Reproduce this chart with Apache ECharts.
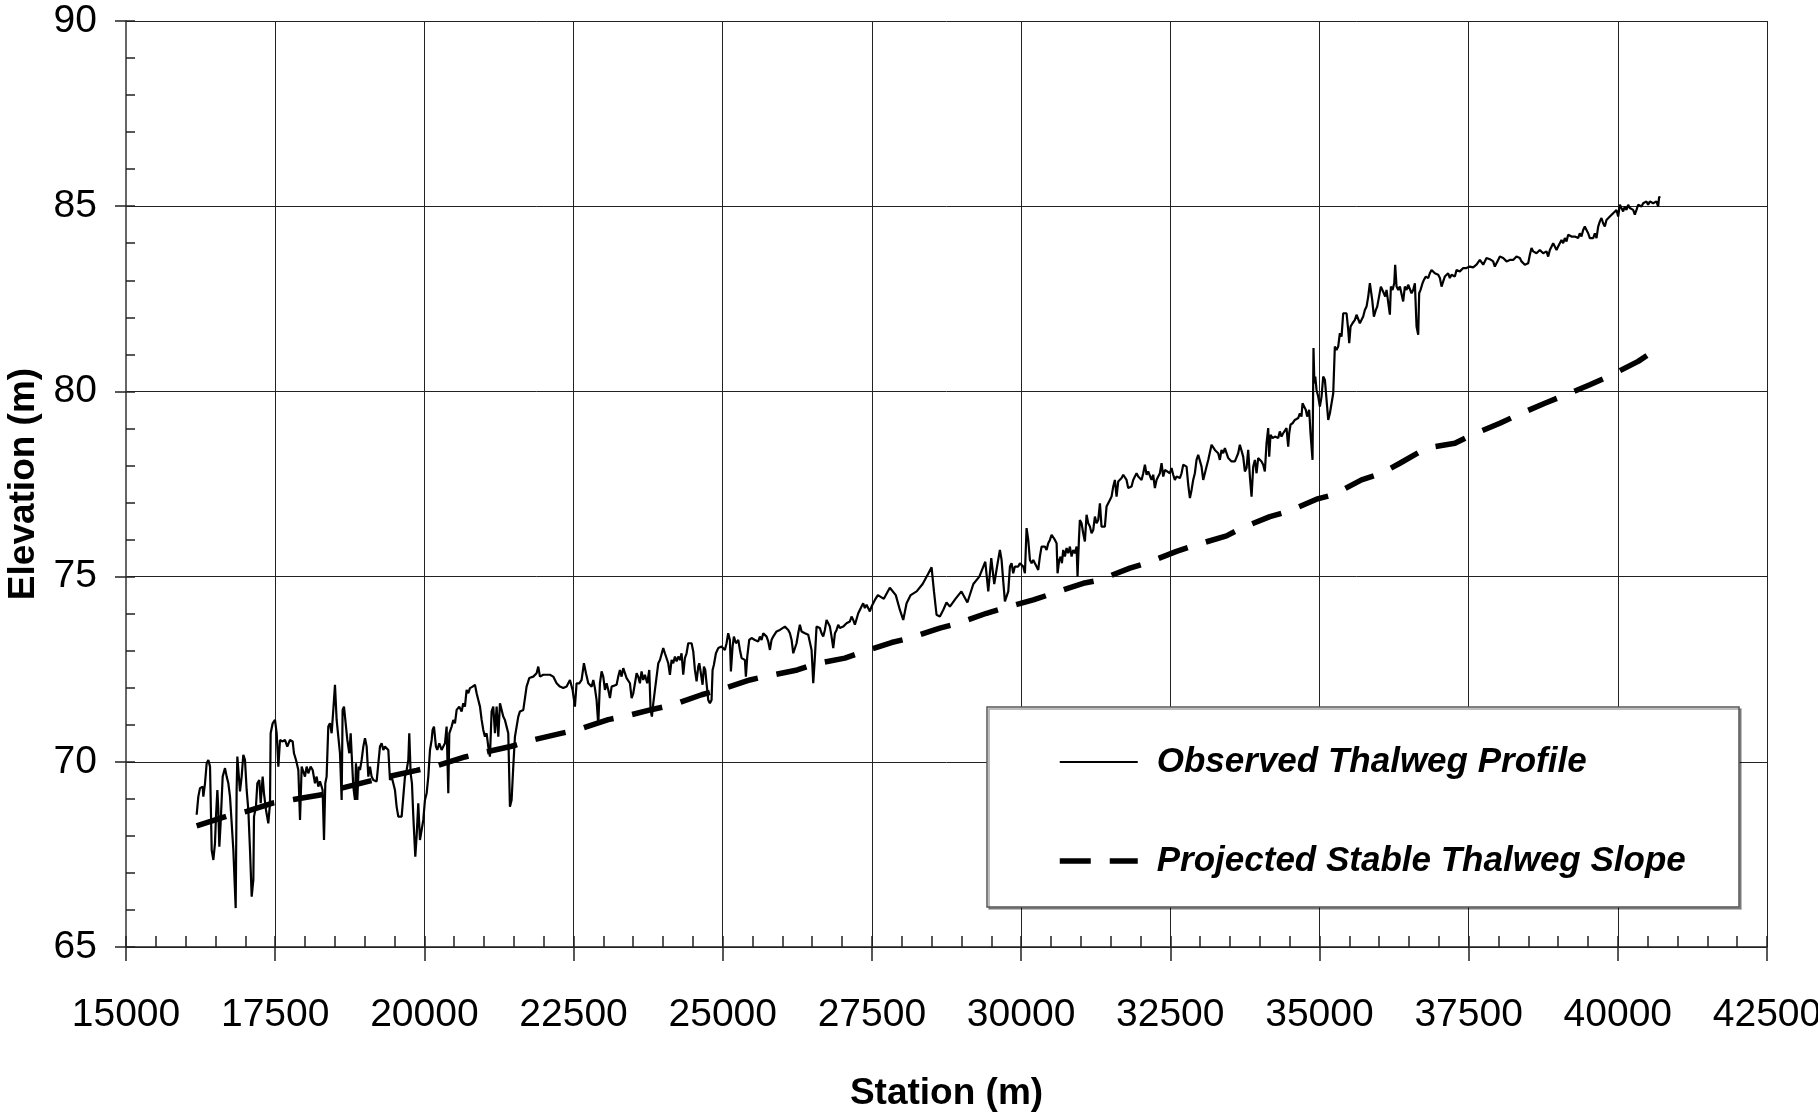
<!DOCTYPE html>
<html>
<head>
<meta charset="utf-8">
<script src="https://cdn.jsdelivr.net/npm/echarts@6/dist/echarts.min.js"></script>
<style>
html,body{margin:0;padding:0;background:#fff;}
#chart{width:1818px;height:1113px;}
</style>
</head>
<body>
<div id="chart"></div>
<script>
const seriesNames = ['Observed Thalweg Profile', 'Projected Stable Thalweg Slope'];
const xTickLabels = ['15000','17500','20000','22500','25000','27500','30000','32500','35000','37500','40000','42500'];
const yTickLabels = ['65','70','75','80','85','90'];

const obsStation = [
16184,16212,16240,16285,16296,16324,16352,16380,16408,16436,16464,16491,16508,16531,16547,16564,16586,16620,16659,16687,
16715,16743,16771,16799,16838,16854,16866,16899,16910,16938,16966,16994,17022,17050,17078,17106,17134,17145,17178,17201,
17234,17257,17290,17312,17346,17385,17413,17424,17458,17497,17525,17553,17581,17625,17664,17703,17748,17793,17815,17849,
17888,17916,17944,17971,17999,18027,18055,18094,18128,18167,18195,18223,18251,18295,18318,18340,18362,18390,18418,18446,
18474,18502,18530,18558,18586,18614,18630,18653,18686,18709,18742,18765,18781,18809,18837,18854,18876,18899,18921,18949,
18977,19005,19033,19061,19089,19116,19144,19200,19228,19256,19284,19312,19340,19368,19396,19424,19451,19479,19507,19535,
19563,19591,19619,19647,19675,19703,19731,19747,19770,19792,19815,19848,19870,19898,19926,19954,19982,20010,20038,20066,
20094,20122,20138,20161,20194,20217,20250,20289,20317,20345,20373,20401,20418,20457,20485,20513,20541,20585,20624,20652,
20680,20708,20736,20764,20809,20848,20876,20904,20932,20960,20987,21015,21043,21071,21099,21127,21155,21183,21211,21239,
21267,21295,21322,21350,21378,21406,21434,21462,21490,21518,21546,21574,21602,21658,21713,21758,21825,21881,21909,21937,
21993,22049,22104,22160,22188,22216,22272,
22328,22384,22440,22484,22523,22551,22596,22635,22674,22708,22747,22775,22803,22831,22858,22886,22914,22942,22970,22998,
23026,23054,23082,23110,23138,23166,23221,23249,23277,23305,23333,23361,23389,23445,23473,23501,23529,23557,23584,23612,
23640,23668,23696,23735,23769,23791,23813,23836,23864,23892,23920,23948,23975,24003,24031,24059,24087,24115,24143,24171,
24199,24227,24255,24283,24310,24338,24366,24394,24422,24450,24478,24506,24534,24562,24590,24607,24629,24662,24685,24707,
24729,24757,24785,24813,24830,24852,24886,24925,24981,25009,25036,25064,25092,25120,25137,25165,25187,25221,25260,25288,
25316,25344,25372,25388,25411,25444,25483,25511,25539,25567,25595,25623,25651,25679,25707,25735,25763,25791,25818,25846,
25874,25902,25930,25958,26003,26042,26070,26098,26126,26154,26182,26209,26237,26265,26293,26321,26349,26377,26405,26433,
26461,26489,26517,26545,26572,26600,26628,26656,26684,26712,26740,26768,26796,26824,26852,26880,26908,26935,26963,26991,
27019,27047,27075,27103,27131,27159,27187,27215,27243,27271,27298,27326,27354,27382,27410,27438,27466,27494,27522,27550,
27600,27700,27800,27900,27969,28025,28081,28150,28250,28350,28450,28500,28540,28583,28639,28695,28750,28807,28900,29000,
29100,29200,29300,29400,29450,29500,29550,29600,
29645,29673,29701,29729,29757,29785,29813,29840,29868,29896,29924,29952,29980,30008,30036,30064,30092,30120,30148,30176,
30204,30231,30259,30287,30315,30343,30371,30399,30427,30455,30483,30511,30539,30567,30595,30611,30639,30662,30684,30706,
30734,30762,30790,30818,30846,30874,30902,30930,30946,30969,30985,31013,31041,31069,31097,31125,31153,31181,31209,31237,
31265,31293,31321,31348,31376,31404,31432,31460,31488,31516,31544,31572,31600,31628,31656,31684,31712,31739,31767,31795,
31823,31851,31879,31907,31935,31963,31991,32019,32047,32075,32103,32130,32158,32186,32214,32242,32270,32298,32326,32354,
32382,32410,32438,32493,32521,32549,32577,32605,32633,32661,32689,32717,32745,32773,32801,32829,32857,32884,32912,32940,
32968,32996,33024,33052,33080,33108,33136,33164,33192,33220,33247,33275,33303,33331,33359,33387,33415,33443,33471,33499,
33527,33555,33583,33610,33638,33666,33694,33722,33750,33778,33806,33834,33862,33890,33918,33946,33973,34001,34029,34057,
34085,34113,34141,34158,34180,34214,34253,34281,34309,34336,34364,34392,34420,34448,34476,34493,34515,34549,34588,34616,
34644,34672,34699,34716,34738,34772,34794,34828,34850,34884,
34900,34915,34930,34951,34979,35007,35035,35063,35091,35119,35147,35175,35203,35231,35258,35286,35314,35342,35370,35398,
35426,35454,35482,35499,35521,35554,35594,35621,35649,35677,35705,35733,35761,35789,35817,35845,35862,35884,35912,35945,
35968,36001,36029,36057,36079,36102,36124,36152,36180,36197,36225,36253,36269,36292,36320,36348,36375,36403,36431,36459,
36487,36515,36543,36571,36599,36627,36655,36671,36694,36727,36750,36783,36822,36850,36878,36906,36934,36962,36990,37018,
37046,37074,37101,37129,37157,37185,37213,37241,37269,37297,37353,37381,37409,37436,37464,37492,37520,37548,37576,37604,
37632,37660,37688,37716,37744,37772,37800,37827,37855,37883,37911,37939,37967,37995,38023,38051,38079,38107,38135,38163,
38191,38218,38246,38274,38302,38330,38358,38386,38414,38442,38470,38498,38526,38554,38582,38609,38637,38665,38693,38721,
38749,38777,38805,38833,38861,38889,38917,38945,38973,39000,39028,39056,39084,39112,39140,39168,39196,39224,39252,39280,
39308,39335,39363,39391,39419,39447,39475,39503,39531,39559,39587,39615,39643,39671,39699,39726,39754,39782,39810,39838,
39866,39894,39922,39950,39978,40006,40034,40061,40089,40117,40145,40173,40201,40229,40257,40285,40313,40341,40369,40397,
40425,40452,40480,40508,40536,40564,40592,40620,40648,40676,40693,40704
];

const obsElevation = [
68.57,69.06,69.29,69.33,69.06,69.42,69.96,70.05,69.87,67.62,67.35,67.80,68.52,69.24,68.70,67.71,68.34,69.60,69.83,69.60,
69.42,69.06,68.34,67.62,66.05,69.24,70.14,70.10,69.20,69.60,70.19,70.05,69.24,68.70,67.62,66.36,66.81,68.52,68.79,69.42,
69.51,68.88,69.60,69.15,68.70,68.34,68.88,70.77,71.04,71.13,70.77,69.87,70.59,70.55,70.59,70.41,70.59,70.55,70.23,70.05,
69.78,68.43,69.87,69.92,69.60,69.87,69.69,69.87,69.78,69.42,69.60,69.33,69.47,69.24,67.89,69.42,69.60,70.95,71.04,70.77,
71.40,72.08,71.13,70.68,70.23,68.97,71.40,71.49,71.49,70.59,70.23,70.77,70.23,69.33,68.97,69.96,68.97,69.87,69.78,70.05,
70.41,70.64,70.41,69.60,69.87,69.60,69.51,69.47,69.42,70.41,70.50,70.32,70.41,70.41,70.32,69.51,69.60,69.42,69.24,68.79,
68.52,68.52,68.52,69.06,69.60,69.78,70.05,70.77,69.69,69.42,68.52,67.44,67.98,68.88,67.89,68.16,68.43,68.97,69.15,69.60,
70.32,70.59,70.86,70.95,70.41,70.32,70.50,70.32,70.41,70.50,70.95,69.15,70.77,70.95,71.13,71.04,71.40,71.49,71.36,71.58,
71.49,71.94,71.85,71.99,72.03,72.08,71.85,71.67,71.49,71.13,70.86,70.68,70.77,70.41,70.14,71.36,71.49,70.77,71.49,70.68,
71.58,71.54,71.22,71.13,70.95,70.77,68.79,68.97,69.87,70.68,70.95,71.22,71.36,71.40,72.03,72.26,72.30,72.39,72.57,72.30,
72.35,72.35,72.35,72.30,72.35,72.12,72.03,
71.99,72.03,72.21,71.94,71.49,72.12,72.12,72.21,72.66,72.39,72.12,72.17,72.03,72.21,71.99,71.67,71.00,72.12,72.44,72.30,
71.94,72.12,71.94,71.72,72.03,71.99,72.08,72.30,72.48,72.30,72.53,72.48,72.26,72.12,71.72,71.85,72.12,72.39,72.30,72.12,
72.44,72.21,72.35,72.12,72.48,71.40,71.22,71.58,71.94,72.30,72.66,72.75,72.80,73.07,72.93,72.93,72.66,72.35,72.75,72.66,
72.84,72.71,72.84,72.75,72.93,72.35,72.80,72.93,73.20,73.25,73.20,72.98,72.48,72.17,72.57,72.66,72.44,72.08,72.57,72.48,
72.12,71.67,71.58,71.67,72.48,72.62,72.93,73.07,73.11,73.16,73.02,73.20,73.47,73.29,72.44,73.11,73.38,73.20,73.29,73.02,
72.80,72.84,72.75,72.30,72.84,73.29,73.34,73.38,73.29,73.34,73.25,73.38,73.29,73.47,73.52,73.38,73.25,73.02,73.29,73.38,
73.43,73.52,73.47,73.56,73.61,73.65,73.70,73.56,73.47,73.29,72.93,72.98,73.20,73.47,73.70,73.52,73.56,73.47,73.52,73.43,
73.38,73.02,72.12,72.84,73.65,73.70,73.61,73.47,73.38,73.56,73.83,73.74,73.65,73.38,73.07,73.47,73.56,73.70,73.61,73.65,
73.65,73.61,73.74,73.70,73.79,73.92,73.83,73.70,73.74,74.01,74.10,74.19,74.28,74.15,74.24,74.19,74.06,74.19,74.28,74.37,
74.50,74.40,74.70,74.50,74.10,73.83,74.28,74.50,74.60,74.80,75.10,75.25,74.60,73.97,73.92,74.10,74.30,74.19,74.40,74.60,
74.30,74.80,75.00,75.40,74.60,75.50,74.80,75.30,
75.72,75.45,74.87,74.33,74.37,74.60,75.27,75.36,75.09,75.27,75.23,75.27,75.36,75.32,75.27,75.09,76.31,75.99,75.45,75.36,
75.45,75.36,75.27,75.18,75.54,75.81,75.86,75.81,75.72,75.90,75.99,76.13,76.17,75.99,75.90,75.09,75.45,75.54,75.36,75.72,
75.54,75.77,75.63,75.81,75.54,75.72,75.63,75.81,75.00,75.99,76.53,76.44,76.17,75.95,76.67,76.44,76.35,76.17,76.26,76.62,
76.44,76.53,76.98,76.35,76.40,76.35,76.89,76.98,77.07,77.16,77.43,77.61,77.16,77.57,77.61,77.66,77.75,77.70,77.61,77.39,
77.39,77.43,77.61,77.70,77.79,77.70,77.75,77.61,77.79,78.02,77.75,77.84,77.79,77.61,77.75,77.39,77.61,77.70,77.79,78.06,
77.70,77.88,77.84,77.79,77.93,77.75,77.61,77.70,77.75,77.66,77.79,78.02,78.06,77.97,77.48,77.12,77.34,77.61,77.79,78.15,
78.29,78.33,77.97,77.61,77.79,77.97,78.15,78.20,78.56,78.51,78.42,78.47,78.33,78.15,78.42,78.33,78.47,78.42,78.20,78.15,
78.11,78.15,78.11,78.15,78.33,78.56,78.60,78.24,77.84,77.93,78.42,77.70,77.16,77.97,78.15,77.79,78.20,78.20,78.11,78.02,
77.84,78.60,79.01,78.24,78.83,78.74,78.78,78.83,78.74,78.92,78.78,78.87,78.92,79.01,78.51,78.87,79.10,79.14,79.23,79.19,
79.28,79.41,79.32,79.68,79.64,79.50,79.32,79.50,78.87,78.15,
81.17,80.22,80.40,80.04,79.86,79.59,79.86,80.40,80.31,80.31,79.23,79.41,79.68,79.95,81.21,81.12,81.21,81.57,81.48,82.11,
82.16,82.11,81.66,81.30,81.75,81.84,81.93,82.07,82.11,81.84,81.89,82.02,82.20,82.29,82.56,82.92,82.96,82.47,82.02,82.20,
82.29,82.29,82.83,82.88,82.65,82.56,82.74,82.79,82.07,82.83,82.74,82.92,83.42,82.83,82.74,82.83,82.88,82.43,82.83,82.74,
82.88,82.83,82.65,82.74,82.92,81.75,81.53,82.65,82.74,82.92,83.01,83.10,83.06,83.19,83.28,83.24,83.19,83.24,83.15,83.06,
82.83,82.97,83.10,83.15,83.19,83.06,83.15,83.15,83.10,83.28,83.24,83.19,83.33,83.37,83.33,83.28,83.37,83.42,83.35,83.37,
83.42,83.37,83.55,83.60,83.42,83.46,83.60,83.55,83.57,83.60,83.51,83.37,83.33,83.55,83.64,83.69,83.60,83.55,83.51,83.46,
83.55,83.60,83.55,83.60,83.64,83.69,83.60,83.51,83.46,83.42,83.46,83.46,83.69,83.87,83.78,83.82,83.73,83.69,83.82,83.78,
83.73,83.69,83.78,83.64,83.82,83.87,84.00,84.05,83.82,83.91,83.91,84.09,84.00,84.14,84.05,84.23,84.27,84.18,84.23,84.18,
84.23,84.14,84.27,84.18,84.36,84.45,84.36,84.27,84.14,84.18,84.14,84.27,84.14,84.45,84.59,84.68,84.54,84.45,84.63,84.63,
84.72,84.77,84.81,84.86,84.90,84.72,85.04,84.95,84.86,84.99,84.90,85.04,84.95,84.99,84.90,84.77,84.90,85.04,85.08,84.99,
85.08,85.04,85.13,85.04,85.13,85.17,85.08,85.04,85.13,84.99,85.26,85.22
];

const projStation = [16184,16687,17022,17469,17804,18279,18614,19061,19396,19870,20194,20680,20987,21462,21797,22272,22579,
23082,23389,23836,24171,24646,24981,25455,25762,26249,26573,27047,27365,27829,28136,28639,28946,29421,29757,30204,30539,
31041,31320,31823,32130,32605,32940,33443,33694,34169,34476,34951,35230,35705,36012,36347,36794,37269,37520,38023,38330,
38777,39085,39531,39866,40341,40592,40704];
const projElevation = [68.27,68.53,68.66,68.89,68.98,69.11,69.29,69.47,69.60,69.77,69.89,70.13,70.25,70.42,70.58,70.76,70.87,
71.14,71.24,71.42,71.54,71.81,71.96,72.21,72.32,72.48,72.65,72.80,72.98,73.22,73.34,73.61,73.74,74.01,74.17,74.37,74.55,
74.82,74.91,75.23,75.38,75.68,75.86,76.10,76.31,76.62,76.76,77.09,77.21,77.61,77.77,78.06,78.47,78.60,78.80,79.14,79.37,
79.68,79.88,80.18,80.42,80.81,81.08,81.12];

const obsData = obsStation.map((s, i) => [s, obsElevation[i]]);
const projData = projStation.map((s, i) => [s, projElevation[i]]);

const FONT = "'Liberation Sans', Arial, sans-serif";

const chart = echarts.init(document.getElementById('chart'), null, {renderer: 'canvas'});
chart.setOption({
  backgroundColor: '#ffffff',
  animation: false,
  grid: {left: 126, right: 51, top: 21, bottom: 166, containLabel: false, outerBoundsMode: 'none'},
  xAxis: [{
    type: 'value', min: 15000, max: 42500, interval: 2500, position: 'bottom',
    name: 'Station (m)', nameLocation: 'middle', nameGap: 128,
    nameTextStyle: {fontFamily: FONT, fontSize: 37, fontWeight: 'bold', color: '#000'},
    axisLine: {show: true, onZero: false, lineStyle: {color: '#222', width: 1.5}},
    axisTick: {show: true, inside: false, length: 14, lineStyle: {color: '#222', width: 1.5}},
    axisLabel: {margin: 49, fontFamily: FONT, fontSize: 39, color: '#000',
      formatter: (v, i) => xTickLabels[i]},
    splitLine: {show: true, lineStyle: {color: '#222', width: 1}}
  }, {
    type: 'value', min: 15000, max: 42500, interval: 500, position: 'bottom', offset: 0,
    axisLine: {show: false},
    axisTick: {show: true, inside: true, length: 11, lineStyle: {color: '#222', width: 1.5}},
    axisLabel: {show: false}, splitLine: {show: false}
  }],
  yAxis: [{
    type: 'value', min: 65, max: 90, interval: 5, position: 'left',
    name: 'Elevation (m)', nameLocation: 'middle', nameGap: 76,
    nameTextStyle: {fontFamily: FONT, fontSize: 37, fontWeight: 'bold', color: '#000'},
    axisLine: {show: true, onZero: false, lineStyle: {color: '#666', width: 2}},
    axisTick: {show: true, inside: false, length: 11, lineStyle: {color: '#222', width: 1.5}},
    axisLabel: {margin: 29, fontFamily: FONT, fontSize: 39, color: '#000',
      formatter: (v, i) => yTickLabels[i]},
    splitLine: {show: true, lineStyle: {color: '#222', width: 1}}
  }, {
    type: 'value', min: 65, max: 90, interval: 1, position: 'left', offset: 0,
    axisLine: {show: false},
    axisTick: {show: true, inside: true, length: 9, lineStyle: {color: '#222', width: 1.5}},
    axisLabel: {show: false}, splitLine: {show: false}
  }],
  graphic: [{
    type: 'rect', z: 10,
    shape: {x: 987, y: 707, width: 752, height: 200},
    style: {fill: '#fff', stroke: '#555', lineWidth: 1.5,
      shadowColor: 'rgba(0,0,0,0.35)', shadowOffsetX: 2, shadowOffsetY: 2, shadowBlur: 0}
  }],
  legend: {
    z: 20, orient: 'vertical', left: 1057, top: 739, padding: 0,
    itemWidth: 78, itemHeight: 14, itemGap: 53,
    itemStyle: {opacity: 0},
    lineStyle: {width: 'inherit'},
    textStyle: {fontFamily: FONT, fontSize: 35, fontWeight: 'bold', fontStyle: 'italic',
      color: '#000', lineHeight: 46, padding: [0, 0, 0, 14]},
    data: seriesNames
  },
  series: [{
    name: seriesNames[0], type: 'line', xAxisIndex: 0, yAxisIndex: 0,
    data: obsData, symbol: 'none', showSymbol: false, z: 3,
    lineStyle: {color: '#000', width: 2.2}, itemStyle: {color: '#000'}
  }, {
    name: seriesNames[1], type: 'line', xAxisIndex: 0, yAxisIndex: 0,
    data: projData, symbol: 'none', showSymbol: false, z: 4,
    lineStyle: {color: '#000', width: 5.5, type: [31, 19], cap: 'butt'}, itemStyle: {color: '#000'}
  }]
});
</script>
</body>
</html>
